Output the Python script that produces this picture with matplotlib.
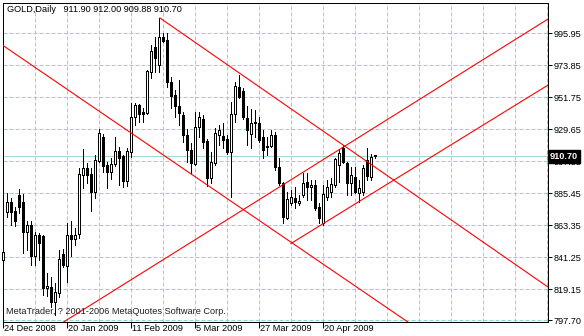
import matplotlib
matplotlib.use("Agg")
import matplotlib.pyplot as plt
import matplotlib.transforms as mtransforms

plt.rcParams["font.family"] = ["Liberation Sans", "DejaVu Sans"]

# daily GOLD bars (bar 0 = 24 Dec 2008)
opens = [839.2, 872.1, 879.0, 873.0, 884.1, 879.0, 858.3, 863.1, 841.9, 856.4,
         855.7, 819.6, 820.7, 810.4, 816.6, 843.3, 835.3, 856.4, 853.5, 856.9,
         897.9, 902.5, 898.6, 886.4, 907.8, 923.9, 904.8, 899.7, 905.5, 914.5,
         911.0, 893.9, 914.0, 938.2, 946.2, 941.1, 940.5, 969.2, 986.3, 973.8,
         993.4, 991.1, 962.3, 953.1, 945.7, 939.3, 925.5, 915.2, 905.5, 931.2,
         936.3, 921.4, 896.0, 906.0, 925.5, 924.8, 922.7, 914.0, 940.0, 958.5,
         956.1, 937.0, 926.0, 934.7, 933.5, 924.3, 918.1, 918.1, 925.5, 903.6,
         892.2, 868.0, 878.3, 882.2, 878.3, 884.1, 893.3, 889.4, 891.0, 876.0,
         864.5, 882.9, 886.2, 891.0, 904.8, 916.3, 906.0, 892.6, 896.7, 885.7,
         886.4, 908.2, 896.5, 911.90]
highs = [846.0, 885.2, 881.8, 876.0, 888.2, 884.7, 866.3, 866.3, 858.7, 857.6,
         856.4, 830.0, 827.6, 823.1, 846.1, 846.6, 864.5, 866.3, 861.1, 902.5,
         915.8, 905.9, 902.5, 911.7, 929.4, 926.0, 907.1, 909.4, 923.9, 917.2,
         911.7, 916.7, 947.5, 947.5, 946.9, 943.9, 970.4, 987.7, 993.4, 1006.1,
         995.7, 995.7, 965.8, 956.6, 963.5, 941.6, 929.6, 919.8, 941.6, 941.6,
         939.3, 922.5, 914.0, 930.1, 932.4, 933.5, 925.5, 948.5, 962.3, 966.9,
         957.8, 945.2, 943.3, 942.8, 938.0, 928.9, 924.3, 928.9, 927.8, 909.4,
         893.2, 886.3, 887.5, 889.4, 884.1, 899.1, 899.5, 894.4, 894.4, 878.3,
         891.0, 894.4, 895.6, 909.4, 915.2, 918.6, 907.1, 903.6, 903.6, 894.4,
         905.0, 916.3, 912.5, 912.00]
lows = [834.1, 869.1, 863.4, 862.7, 871.4, 843.8, 846.1, 835.7, 835.7, 839.2,
        815.0, 814.3, 806.9, 801.2, 813.8, 834.6, 824.2, 841.9, 849.5, 854.2,
        888.7, 892.2, 873.0, 881.8, 907.1, 899.7, 888.7, 894.9, 904.3, 891.0,
        889.8, 890.5, 910.6, 932.4, 934.7, 934.7, 939.8, 964.7, 968.8, 969.2,
        990.0, 958.9, 944.4, 938.2, 932.4, 920.9, 907.1, 899.1, 904.8, 924.3,
        916.3, 890.3, 892.2, 904.8, 918.4, 916.3, 912.4, 882.9, 934.7, 950.9,
        936.3, 918.6, 916.3, 924.3, 920.9, 909.4, 911.7, 917.5, 901.3, 891.0,
        864.5, 867.3, 877.2, 874.9, 877.2, 882.9, 880.6, 880.6, 873.7, 864.5,
        863.4, 880.6, 882.9, 889.8, 893.3, 906.0, 884.1, 884.1, 885.2, 879.4,
        884.0, 894.4, 894.4, 909.88]
closes = [844.5, 879.0, 872.1, 866.3, 875.6, 858.3, 863.1, 841.9, 856.4, 851.1,
          819.6, 821.2, 810.4, 817.3, 839.7, 835.7, 856.4, 853.5, 856.4, 898.4,
          902.5, 897.9, 886.4, 908.2, 926.7, 904.3, 899.7, 905.5, 914.5, 909.4,
          893.9, 914.5, 938.2, 946.2, 940.0, 940.0, 969.7, 983.5, 978.5, 993.4,
          990.6, 962.3, 952.7, 945.5, 940.5, 925.5, 915.2, 906.0, 931.2, 938.2,
          920.9, 896.0, 907.1, 927.1, 928.9, 922.0, 913.8, 940.0, 959.4, 951.6,
          937.7, 928.9, 934.0, 933.5, 922.0, 915.2, 917.0, 925.5, 903.6, 892.2,
          869.1, 881.1, 882.9, 879.4, 880.1, 892.2, 889.4, 891.0, 874.9, 868.0,
          884.7, 889.8, 891.6, 908.7, 912.9, 907.1, 892.2, 897.9, 886.4, 888.7,
          902.5, 897.0, 910.0, 910.70]

date_ticks = [0, 16, 32, 48, 64, 80]
date_labels = ["24 Dec 2008", "20 Jan 2009", "11 Feb 2009",
               "5 Mar 2009", "27 Mar 2009", "20 Apr 2009"]
price_ticks = [995.95, 973.85, 951.75, 929.65, 907.55, 885.45,
               863.35, 841.25, 819.15, 797.70]

# drawn channel lines, (bar, price) end points
line_a = [(39.25, 1006.3), (136.25, 820.5)]
line_b = [(-1.0, 989.2), (103.0, 793.0)]
line_c = [(14.75, 795.7), (136.25, 1005.6)]
line_d = [(72.0, 850.6), (136.25, 960.0)]

grid_col = "#8cd6d6"
px = 0.72  # one pixel in points
fs = 6.6

fig = plt.figure(figsize=(5.84, 3.36), dpi=100)
fig.patch.set_facecolor("white")
ax = fig.add_axes([3 / 584, 14 / 336, 545 / 584, 319 / 336])
ax.set_xlim(0, 136.25)
ax.set_ylim(796.37, 1016.67)

# grid
for p in price_ticks:
    ax.axhline(p, color=grid_col, lw=px, dashes=(4, 2), zorder=1, snap=True)
for b in range(0, 137, 8):
    ax.axvline(b, color=grid_col, lw=px, dashes=(4, 2), zorder=1, snap=True)

# bid line
ax.axhline(closes[-1], color="#a0dad6", lw=px, zorder=1, snap=True)

# candles
n = len(opens)
idx = list(range(n))
ax.vlines(idx, lows, highs, color="black", lw=px, zorder=3, clip_on=False,
          antialiased=False)
bottoms = [min(o, c) for o, c in zip(opens, closes)]
heights = [max(abs(c - o), 0.05) for o, c in zip(opens, closes)]
faces = ["white" if c >= o else "black" for o, c in zip(opens, closes)]
ax.bar(idx, heights, bottom=bottoms, width=0.5, color=faces,
       edgecolor="black", linewidth=px, zorder=4, clip_on=False, antialiased=False)

# channel lines
for ln in (line_a, line_b, line_c, line_d):
    ax.plot([ln[0][0], ln[1][0]], [ln[0][1], ln[1][1]], color="red", lw=0.8,
            zorder=5)

# axes look
for s in ax.spines.values():
    s.set_color("black")
    s.set_linewidth(px)
ax.yaxis.tick_right()
ax.set_yticks(price_ticks)
ax.set_yticklabels(["%.2f" % p for p in price_ticks])
ax.set_xticks(date_ticks)
ax.set_xticklabels([])
ax.tick_params(axis="y", direction="out", length=3, width=px, pad=1.2,
               labelsize=fs, colors="black")
ax.tick_params(axis="x", direction="out", length=4, width=px, colors="black")

# date labels just right of their ticks
lab_tr = ax.get_xaxis_transform() + mtransforms.ScaledTranslation(
    1 / 100, -2 / 100, fig.dpi_scale_trans)
for b, t in zip(date_ticks, date_labels):
    ax.text(b, 0, t, transform=lab_tr, ha="left", va="top", fontsize=fs,
            color="black", clip_on=False)

# current price box
ax.text(1.003, closes[-1], "%.2f" % closes[-1], transform=ax.get_yaxis_transform(),
        ha="left", va="center", color="white", fontsize=fs, fontweight="bold",
        bbox=dict(boxstyle="square,pad=0.2", fc="black", ec="black"), zorder=10,
        clip_on=False)

fig.text(7 / 584, 1 - 10 / 336,
         "GOLD,Daily   %.2f %.2f %.2f %.2f" % (opens[-1], highs[-1], lows[-1], closes[-1]),
         ha="left", va="center", fontsize=fs, color="black")
fig.text(6 / 584, 1 - 311 / 336, "MetaTrader, ? 2001-2006 MetaQuotes Software Corp.",
         ha="left", va="center", fontsize=fs, color="#202020")

fig.savefig("out.png", dpi=100)
